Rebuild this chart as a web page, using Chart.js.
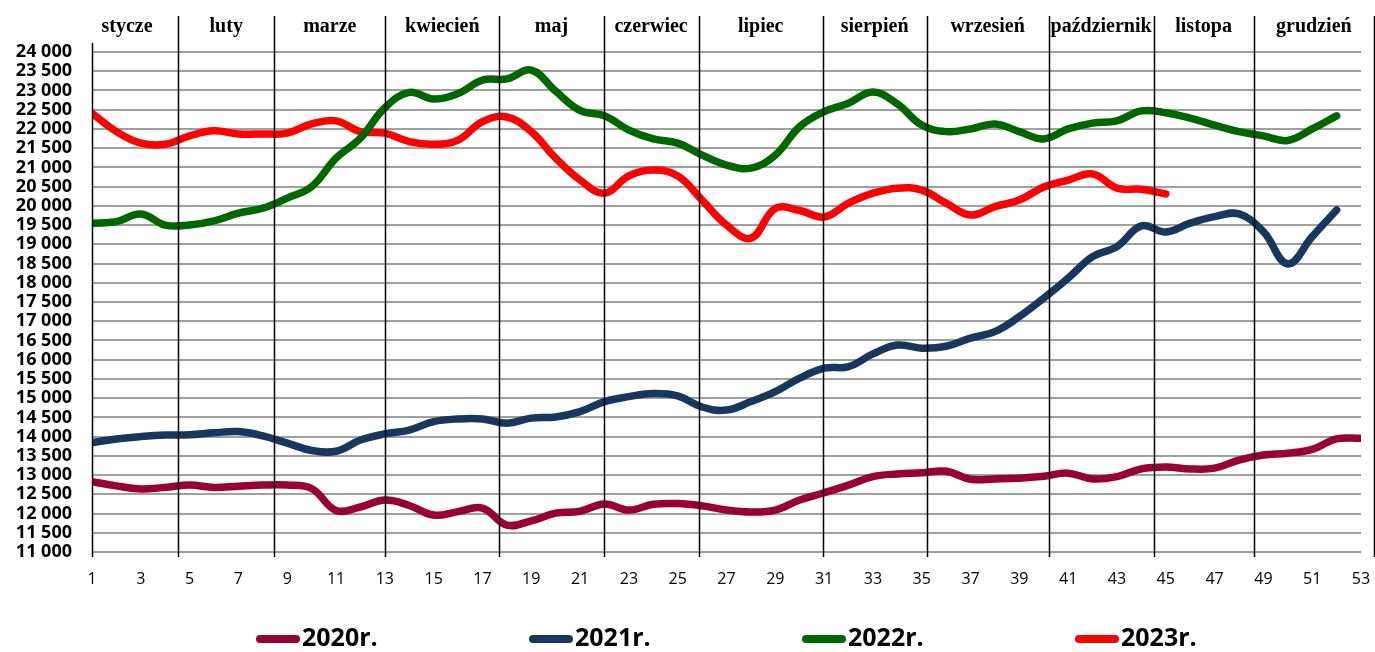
<!DOCTYPE html>
<html>
<head>
<meta charset="utf-8">
<script src="https://cdn.jsdelivr.net/npm/chart.js@4"></script>
<style>
	body { margin: 0; background: #fff; }
	#wrap { width: 1375px; height: 652px; position: relative; }
</style>
</head>
<body>
<div id="wrap"><canvas id="chart-weeks"></canvas></div>
<script>
// weeks of the year
const weeks = [1, 2, 3, 4, 5, 6, 7, 8, 9, 10, 11, 12, 13, 14, 15, 16, 17, 18, 19, 20,
	21, 22, 23, 24, 25, 26, 27, 28, 29, 30, 31, 32, 33, 34, 35, 36, 37, 38, 39, 40,
	41, 42, 43, 44, 45, 46, 47, 48, 49, 50, 51, 52, 53];

const values2020 = [12830, 12720, 12640, 12680, 12740, 12680, 12710, 12740, 12740, 12650,
	12080, 12170, 12350, 12210, 11960, 12050, 12140, 11700, 11810, 12010,
	12060, 12250, 12090, 12240, 12260, 12200, 12090, 12040, 12090, 12350,
	12540, 12740, 12960, 13030, 13060, 13100, 12890, 12900, 12920, 12970,
	13050, 12900, 12960, 13160, 13210, 13160, 13180, 13390, 13520, 13570,
	13670, 13940, 13960];

const values2021 = [13840, 13940, 14000, 14040, 14050, 14100, 14130, 14020, 13830, 13640,
	13620, 13910, 14070, 14170, 14390, 14460, 14460, 14350, 14480, 14510,
	14650, 14910, 15040, 15120, 15060, 14770, 14690, 14910, 15170, 15520,
	15780, 15820, 16150, 16380, 16300, 16350, 16560, 16730, 17120, 17600,
	18120, 18680, 18940, 19480, 19320, 19550, 19720, 19790, 19330, 18490,
	19200, 19890];

const values2022 = [19550, 19590, 19790, 19500, 19500, 19610, 19810, 19940, 20200, 20500,
	21240, 21760, 22550, 22950, 22780, 22920, 23270, 23300, 23530, 22980,
	22480, 22340, 21970, 21740, 21630, 21320, 21060, 20980, 21320, 22060,
	22450, 22670, 22960, 22650, 22100, 21930, 22000, 22130, 21930, 21740,
	22000, 22150, 22210, 22470, 22420, 22280, 22100, 21930, 21820, 21700,
	22000, 22340];

const values2023 = [22410, 21930, 21630, 21600, 21820, 21950, 21870, 21870, 21890, 22130,
	22210, 21930, 21890, 21670, 21600, 21710, 22190, 22310, 21930, 21240,
	20670, 20330, 20780, 20930, 20780, 20150, 19500, 19160, 19930, 19880,
	19710, 20070, 20330, 20460, 20410, 20070, 19760, 19980, 20150, 20490,
	20670, 20830, 20460, 20430, 20310];

const seriesNames = ["2020r.", "2021r.", "2022r.", "2023r."];
const seriesColors = ["#990033", "#17375e", "#006600", "#ff0000"];

// month names and the week where each month begins / ends
const monthNames = ["stycze", "luty", "marze", "kwiecień", "maj", "czerwiec",
	"lipiec", "sierpień", "wrzesień", "październik", "listopa", "grudzień"];
const monthEdges = [1, 4.53, 8.47, 13.02, 17.69, 21.96, 25.86, 30.94, 35.2, 40.2, 44.5, 48.6, 53.54];

const fmt = (v) => String(v).replace(/\B(?=(\d{3})+(?!\d))/g, " ");

const monthsPlugin = {
	id: "months",
	afterDatasetsDraw(chart) {
		const c = chart.ctx;
		const x = chart.scales.x;
		c.save();
		c.strokeStyle = "#000";
		c.lineWidth = 1.5;
		monthEdges.forEach((w, i) => {
			const px = Math.round(x.getPixelForValue(w)) + 0.5;
			c.beginPath();
			c.moveTo(px, i === 0 ? 43 : 16);
			c.lineTo(px, 557);
			c.stroke();
		});
		c.fillStyle = "#000";
		c.font = "bold 20px 'Liberation Serif'";
		c.textAlign = "center";
		c.textBaseline = "middle";
		monthNames.forEach((name, i) => {
			const mid = (x.getPixelForValue(monthEdges[i]) + x.getPixelForValue(monthEdges[i + 1])) / 2;
			c.fillText(name, i === 0 ? mid - 8 : mid, 27);
		});
		c.restore();
	},
};

const legendPlugin = {
	id: "bottomLegend",
	afterDraw(chart) {
		const c = chart.ctx;
		c.save();
		c.font = "bold 25px 'Open Sans'";
		c.textBaseline = "middle";
		c.lineCap = "round";
		chart.data.datasets.forEach((ds, i) => {
			const left = 256 + i * 273;
			c.strokeStyle = ds.borderColor;
			c.lineWidth = 8;
			c.beginPath();
			c.moveTo(left + 4, 639);
			c.lineTo(left + 40, 639);
			c.stroke();
			c.fillStyle = "#000";
			c.fillText(ds.label, left + 46, 639);
		});
		c.restore();
	},
};

const data = {
	labels: weeks,
	datasets: [values2020, values2021, values2022, values2023].map((vals, i) => ({
		label: seriesNames[i],
		data: vals,
		borderColor: seriesColors[i],
		backgroundColor: seriesColors[i],
		borderWidth: 7.5,
		borderCapStyle: "round",
		borderJoinStyle: "round",
		pointRadius: 0,
		tension: 0.4,
	})),
};

const options = {
	responsive: true,
	maintainAspectRatio: false,
	animation: false,
	layout: { padding: { top: 52, right: 1, left: 0, bottom: 0 } },
	plugins: {
		legend: { display: false },
		tooltip: { enabled: false },
	},
	scales: {
		x: {
			type: "linear",
			min: 1,
			max: 53,
			afterFit: (scale) => {
				scale.height = 100;
				scale.paddingLeft = 0;
				scale.paddingRight = 14;
			},
			grid: { display: false },
			border: { display: false },
			ticks: {
				stepSize: 2,
				padding: 10,
				color: "#000",
				font: { family: "'Open Sans'", size: 16 },
				maxRotation: 0,
			},
		},
		y: {
			min: 11000,
			max: 24000,
			afterFit: (scale) => { scale.width = 92; },
			grid: { color: "#a0a0a0", lineWidth: 2, drawTicks: false },
			border: { display: false },
			ticks: {
				stepSize: 500,
				autoSkip: false,
				padding: 20,
				color: "#000",
				font: { family: "'Open Sans'", size: 18, weight: "bold" },
				callback: (v) => fmt(v),
			},
		},
	},
};

new Chart(document.getElementById("chart-weeks"), {
	type: "line",
	data: data,
	options: options,
	plugins: [monthsPlugin, legendPlugin],
});
</script>
</body>
</html>
